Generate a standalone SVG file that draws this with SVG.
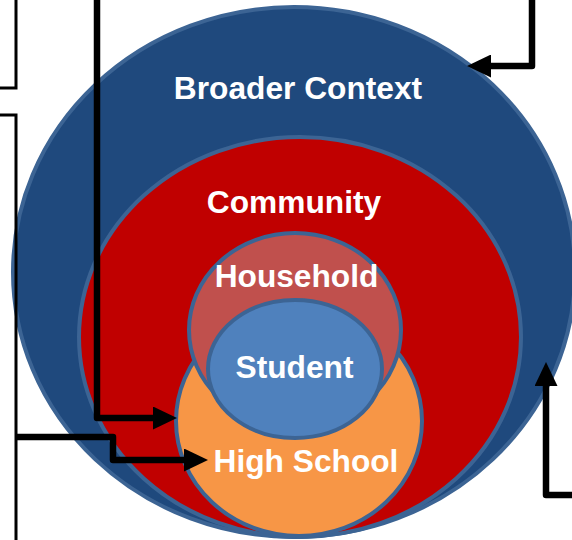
<svg xmlns="http://www.w3.org/2000/svg" width="572" height="540" viewBox="0 0 572 540">
<style>
.lbl{font-family:"Liberation Sans",Arial,sans-serif;font-weight:bold;font-size:31.7px;fill:#FFFFFF;text-anchor:middle}
.ring{stroke:#3C6494;stroke-width:4}
.thick{fill:none;stroke:#000000;stroke-width:6.5;stroke-linejoin:round}
.thin{fill:none;stroke:#000000;stroke-width:3}
</style>
<defs>
<marker id="arr" viewBox="0 0 24 23" refX="4" refY="11.5" markerWidth="24" markerHeight="23" markerUnits="userSpaceOnUse" orient="auto">
<path d="M0,0 L24,11.5 L0,23 Z" fill="#000000"/>
</marker>
</defs>
<rect width="572" height="540" fill="#FFFFFF"/>
<g id="broader-context">
<ellipse class="ring" cx="294" cy="272" rx="281" ry="265" fill="#1F497D"/>
<text class="lbl" x="298" y="99">Broader Context</text>
</g>
<g id="community">
<ellipse class="ring" cx="300" cy="337" rx="221" ry="200" fill="#C00000"/>
<text class="lbl" x="294" y="213">Community</text>
</g>
<g id="high-school">
<ellipse class="ring" cx="299" cy="421" rx="123" ry="115" fill="#F79646"/>
<text class="lbl" x="306" y="472">High School</text>
</g>
<g id="household">
<ellipse class="ring" cx="295" cy="330" rx="106" ry="97" fill="#C0504D"/>
<text class="lbl" x="296.5" y="287">Household</text>
</g>
<g id="student">
<ellipse class="ring" cx="295" cy="369" rx="87" ry="69" fill="#4F81BD"/>
<text class="lbl" x="294.5" y="378">Student</text>
</g>
<g id="connectors">
<path class="thin" d="M16,0 L16,88 L0,88"/>
<path class="thin" d="M0,115 L16,115 L16,540"/>
<path class="thick" d="M16,437 L113,437 L113,460 L188,460" marker-end="url(#arr)"/>
<path class="thick" d="M97,0 L97,418 L157,418" marker-end="url(#arr)"/>
<path class="thick" d="M532,0 L532,66 L487,66" marker-end="url(#arr)"/>
<path class="thick" d="M572,495 L546,495 L546,382" marker-end="url(#arr)"/>
</g>
</svg>
